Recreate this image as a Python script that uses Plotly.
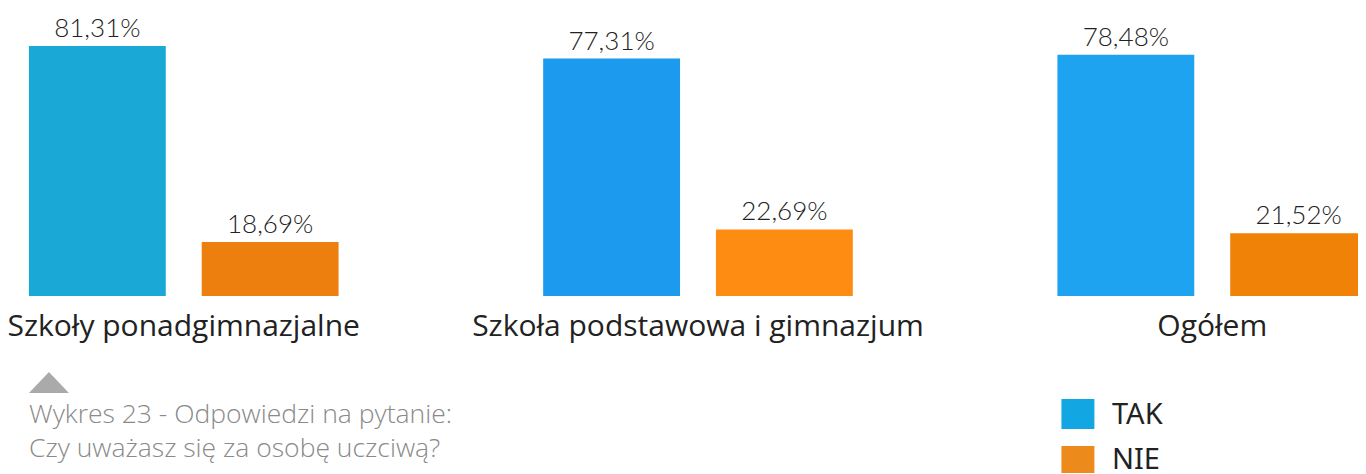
import plotly.graph_objects as go

categories = ["Szkoły ponadgimnazjalne", "Szkoła podstawowa i gimnazjum", "Ogółem"]
tak_values = [81.31, 77.31, 78.48]
nie_values = [18.69, 22.69, 21.52]
series_names = ["TAK", "NIE"]
caption_lines = ["Wykres 23 - Odpowiedzi na pytanie:", "Czy uważasz się za osobę uczciwą?"]

# page is rendered with the default 8px body margin; compensate for it
OFF = 8
PAGE_W, PAGE_H = 1366, 474
W, H = PAGE_W - OFF, PAGE_H - OFF
PLOT_BOTTOM = 296 - OFF  # plot-area bottom in figure pixels

tak_colors = ["#1aa8d6", "#1b9aee", "#1ea3f0"]
nie_colors = ["#ec7f0e", "#ff8c12", "#f08208"]

def fmt(v):
    return f"{v:.2f}".replace(".", ",") + "%"

label_font = dict(family="Lato", size=26, color="#222222", weight=300)

fig = go.Figure()
fig.add_trace(go.Bar(
    x=categories, y=tak_values, name=series_names[0],
    marker=dict(color=tak_colors, line=dict(width=0)),
    text=[fmt(v) for v in tak_values], textposition="outside",
    textfont=label_font, cliponaxis=False,
))
fig.add_trace(go.Bar(
    x=categories, y=nie_values, name=series_names[1],
    marker=dict(color=nie_colors, line=dict(width=0)),
    text=[fmt(v) for v in nie_values], textposition="outside",
    textfont=label_font, cliponaxis=False,
))

def px_x(p):
    return (p - OFF) / W

def px_y(p):
    return (PLOT_BOTTOM - (p - OFF)) / PLOT_BOTTOM

shapes = [
    dict(type="path", xref="paper", yref="paper",
         path=f"M {px_x(27)} {px_y(393)} L {px_x(47)} {px_y(372)} L {px_x(67)} {px_y(393)} Z",
         fillcolor="#aaaaaa", line=dict(width=0)),
    dict(type="rect", xref="paper", yref="paper",
         x0=px_x(1061), x1=px_x(1094), y0=px_y(429), y1=px_y(399),
         fillcolor="#12a6e2", line=dict(width=0)),
    dict(type="rect", xref="paper", yref="paper",
         x0=px_x(1061), x1=px_x(1094), y0=px_y(473), y1=px_y(446),
         fillcolor="#ec8a1c", line=dict(width=0)),
]

cap_font = dict(family="Open Sans", size=26.5, color="#8a8a8a", weight=300)
leg_font = dict(family="Noto Sans", size=29, color="#222222")
annotations = [
    dict(xref="paper", yref="paper", x=px_x(25), y=px_y(413), xanchor="left", yanchor="middle",
         text=caption_lines[0], showarrow=False, font=cap_font),
    dict(xref="paper", yref="paper", x=px_x(25), y=px_y(447), xanchor="left", yanchor="middle",
         text=caption_lines[1], showarrow=False, font=cap_font),
    dict(xref="paper", yref="paper", x=px_x(1110), y=px_y(412), xanchor="left", yanchor="middle",
         text=series_names[0], showarrow=False, font=leg_font),
    dict(xref="paper", yref="paper", x=px_x(1110), y=px_y(472), xanchor="left", yanchor="bottom",
         text=series_names[1], showarrow=False, font=leg_font, yshift=-7),
]

px_per_cat = 515.0
center0 = 182.0 - OFF
y_zero_page = 300.5
px_per_pct = 3.13
y_min = (y_zero_page - 296) / px_per_pct
y_max = y_min + PLOT_BOTTOM / px_per_pct

fig.update_layout(
    width=W, height=H,
    margin=dict(l=0, r=0, t=0, b=H - PLOT_BOTTOM, pad=0),
    paper_bgcolor="white", plot_bgcolor="white",
    barmode="group", bargap=0.328, bargroupgap=0.208,
    showlegend=False,
    xaxis=dict(range=[-center0 / px_per_cat, (W - center0) / px_per_cat],
               showgrid=False, zeroline=False, showline=False, ticks="",
               tickfont=dict(family="Open Sans", size=30, color="#222222"),
               ticklabelstandoff=9),
    yaxis=dict(range=[y_min, y_max], visible=False, showgrid=False, zeroline=False),
    shapes=shapes, annotations=annotations,
    font=dict(family="Lato"),
)

fig.write_html("out.html")
